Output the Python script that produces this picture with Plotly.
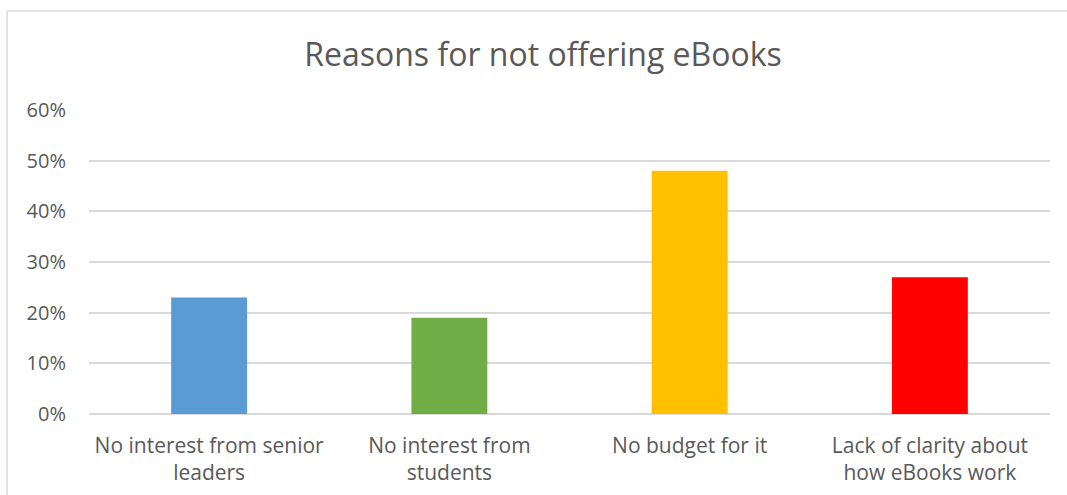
import plotly.graph_objects as go

# Survey: reasons given for not offering eBooks
categories = [
    "No interest from senior<br>leaders",
    "No interest from<br>students",
    "No budget for it",
    "Lack of clarity about<br>how eBooks work",
]
shares = [0.23, 0.19, 0.48, 0.27]
bar_colors = ["#5B9BD5", "#70AD47", "#FFC000", "#FF0000"]
y_ticks = [0, 0.1, 0.2, 0.3, 0.4, 0.5, 0.6]
y_tick_labels = ["0%", "10%", "20%", "30%", "40%", "50%", "60%"]

W, H = 1067, 495
left, right, top, bottom = 89, 17, 110, 81
plot_w = W - left - right
plot_h = H - top - bottom

font_family = "Open Sans, Liberation Sans, sans-serif"
text_color = "#595959"
grid_color = "#D9D9D9"

fig = go.Figure(
    go.Bar(
        x=categories,
        y=shares,
        marker=dict(color=bar_colors, line=dict(width=0)),
        hoverinfo="skip",
    )
)

# Outer chart frame (left and top edges visible)
fx = (7 - left) / plot_w
fy = (H - bottom - 11) / plot_h
fig.add_shape(type="line", xref="paper", yref="paper", x0=fx, x1=fx, y0=fy, y1=-1,
              line=dict(color=grid_color, width=1.5))
fig.add_shape(type="line", xref="paper", yref="paper", x0=fx, x1=1.2, y0=fy, y1=fy,
              line=dict(color=grid_color, width=1.5))

fig.update_layout(
    width=W,
    height=H,
    margin=dict(l=left, r=right, t=top, b=bottom, autoexpand=False),
    paper_bgcolor="white",
    plot_bgcolor="white",
    bargap=0.684,
    showlegend=False,
    title=dict(
        text="Reasons for not offering eBooks",
        x=543 / W,
        xanchor="center",
        y=1 - 55 / H,
        yanchor="middle",
        font=dict(family=font_family, size=32, color=text_color),
    ),
    font=dict(family=font_family, color=text_color),
)

fig.update_yaxes(
    range=[0, 0.6],
    tickvals=y_ticks,
    ticktext=y_tick_labels,
    showgrid=True,
    gridcolor=grid_color,
    gridwidth=1.5,
    zeroline=True,
    zerolinecolor=grid_color,
    zerolinewidth=1.5,
    showline=False,
    ticks="",
    automargin=False,
    ticklabelstandoff=22,
    tickfont=dict(family=font_family, size=20, color=text_color),
)
fig.update_xaxes(
    showgrid=False,
    showline=False,
    ticks="",
    automargin=False,
    ticklabelstandoff=17,
    tickfont=dict(family=font_family, size=21, color=text_color),
)

fig.write_html("out.html")
